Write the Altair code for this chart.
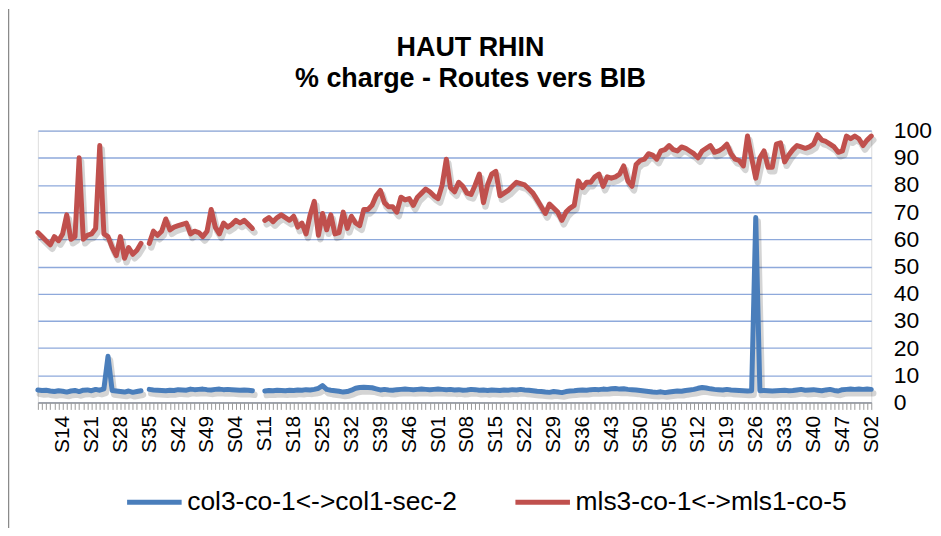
import json
import altair as alt
import pandas as pd

# ---------------- data ----------------
series_names = ["col3-co-1<->col1-sec-2", "mls3-co-1<->mls1-co-5"]
series_colors = ["#4A7EBB", "#C0504D"]

# weekly values, first point = S08 (index 0), last = S02 (index 202); None = missing week
red_values = [
    62.5, 61, 59.5, 58, 61, 59.5, 62, 69, 60, 61,
    90, 60, 61.5, 62, 64, 94.5, 62, 61, 57, 54,
    61, 53, 57, 54.5, 56, 58.5, None, 58.5, 63, 61.5,
    63, 67.5, 63.5, 64.5, 65, 65.5, 66, 62, 63, 62.5,
    61, 63, 71, 64.5, 62, 66, 64.5, 65.5, 67, 66,
    67, 65.5, 64, None, None, 67, 68, 66.5, 68, 69,
    68, 67, 68.5, 64.5, 66, 62, 69, 74, 61.5, 69.5,
    63.5, 69, 62, 62.5, 70, 64, 68.5, 66, 65, 71,
    71, 72.5, 76, 78, 73.5, 72, 72, 70, 75.5, 74.5,
    75, 72.5, 75.5, 77, 78.5, 77.5, 76, 75, 80, 89.5,
    79, 77.5, 81, 79.5, 77, 76.5, 80, 84, 73.5, 80,
    84, 85, 76, 77, 78, 79.5, 81, 80.5, 80, 78.5,
    77, 74.5, 72, 69.5, 73, 71.5, 70, 67, 70, 71.5,
    72.5, 81.5, 79, 81, 81, 83, 84, 79.5, 83, 82.5,
    83, 84, 87, 81.5, 79.5, 87.5, 89, 89.5, 91.5, 91,
    89.5, 92.5, 93, 94.5, 93, 92.5, 94, 93.5, 92.5, 91.5,
    90, 92.5, 93.5, 94.5, 92, 92.5, 93.5, 95, 91.5, 89.5,
    89, 87, 98, 90, 82.5, 90, 92.5, 86.5, 86.5, 95,
    95.5, 88.5, 91, 93, 94.5, 94, 93.5, 94, 95, 98.5,
    96.5, 96, 95, 94, 92, 92.5, 98, 97, 98, 97,
    94.5, 96.5, 98,
]

blue_values = [
    4.6, 4.4, 4.5, 4.2, 4.0, 4.3, 4.1, 3.8, 4.2, 4.4,
    4.0, 4.5, 4.6, 4.3, 4.8, 4.5, 5.0, 17, 4.4, 4.2,
    4.0, 3.8, 4.2, 3.7, 4.0, 4.3, None, 4.8, 4.6, 4.5,
    4.4, 4.3, 4.5, 4.4, 4.7, 4.6, 4.5, 4.9, 4.7, 4.8,
    4.9, 4.7, 4.6, 4.8, 4.9, 4.7, 4.8, 4.7, 4.6, 4.5,
    4.6, 4.5, 4.3, None, None, 4.2, 4.4, 4.3, 4.5, 4.4,
    4.3, 4.5, 4.4, 4.6, 4.5, 4.7, 4.6, 4.8, 5.2, 6.2,
    4.8, 4.5, 4.3, 4.1, 3.8, 4.0, 4.5, 5.2, 5.5, 5.6,
    5.5, 5.4, 5.0, 4.6, 4.8, 4.6, 4.5, 4.7, 4.8, 4.9,
    4.8, 4.7, 4.8, 4.9, 4.8, 4.7, 4.8, 4.9, 4.8, 4.7,
    4.8, 4.6, 4.7, 4.5, 4.6, 4.8, 4.7, 4.5, 4.6, 4.4,
    4.6, 4.5, 4.4, 4.6, 4.5, 4.7, 4.6, 4.8, 4.6, 4.5,
    4.3, 4.1, 4.0, 3.8, 3.7, 4.0, 3.8, 3.6, 4.0, 4.2,
    4.3, 4.5, 4.6, 4.5, 4.7, 4.8, 4.7, 4.9, 4.8, 5.0,
    5.1, 4.9, 5.0, 4.8, 4.7, 4.6, 4.4, 4.2, 4.0, 3.8,
    3.7, 3.9, 3.6, 3.8, 4.0, 4.2, 4.1, 4.4, 4.6, 4.8,
    5.2, 5.5, 5.3, 5.0, 4.8, 4.7, 4.6, 4.8, 4.6, 4.5,
    4.4, 4.3, 4.2, 4.3, 68, 4.3, 4.4, 4.3, 4.2, 4.3,
    4.4, 4.5, 4.3, 4.4, 4.6, 4.8, 4.5, 4.6, 4.7, 4.5,
    4.3, 4.6, 4.8, 4.4, 4.2, 4.7, 4.8, 4.9, 4.8, 4.9,
    4.8, 4.9, 4.8,
]

# axis labels, one every 7 weeks starting at index 6 (S14)
tick_labels = ["S14", "S21", "S28", "S35", "S42", "S49", "S04", "S11", "S18", "S25",
               "S32", "S39", "S46", "S01", "S08", "S15", "S22", "S29", "S36", "S43",
               "S50", "S05", "S12", "S19", "S26", "S33", "S40", "S47", "S02"]
first_label_index = 6
label_step = 7
y_ticks = [0, 10, 20, 30, 40, 50, 60, 70, 80, 90, 100]

# ---------------- build table ----------------
rows = []
for name, vals in zip(series_names, [blue_values, red_values]):
    seg = 0
    for i, v in enumerate(vals):
        if v is None:
            seg += 1
            continue
        rows.append({"i": i, "value": v, "series": name, "seg": f"{name}-{seg}"})
df = pd.DataFrame(rows)
n = len(red_values)

FONT = "Liberation Sans"
W, H = 837, 273

label_expr = (
    f"(datum.value >= {first_label_index} && (datum.value - {first_label_index}) % {label_step} == 0) ? "
    f"{json.dumps(tick_labels)}[(datum.value - {first_label_index}) / {label_step}] : ''"
)

x_enc = alt.X(
    "i:Q",
    scale=alt.Scale(domain=[0, n - 1], nice=False, zero=False),
    axis=alt.Axis(
        values=list(range(n)), labelExpr=label_expr, labelAngle=270, labelOverlap=False,
        labelFontSize=21, labelFont=FONT, labelColor="#000", labelPadding=6,
        tickSize=7, tickColor="#9a9a9a", tickWidth=1,
        domainColor="#9a9a9a", domainWidth=1.5, grid=False, title=None, zindex=1,
    ),
)
y_enc = alt.Y(
    "value:Q",
    scale=alt.Scale(domain=[0, 100], nice=False),
    axis=alt.Axis(
        orient="right", values=y_ticks, labelFontSize=23, labelFont=FONT, labelColor="#000",
        labelPadding=22, ticks=False, domain=False, grid=True, gridColor="#8EA9DB",
        gridWidth=1.3, title=None,
    ),
)

base = alt.Chart(df)

shadow = base.mark_line(
    color="#000", opacity=0.17, strokeWidth=6.5, xOffset=2, yOffset=4,
    strokeJoin="round", strokeCap="round",
).encode(x=x_enc, y=y_enc, detail="seg:N", order="i:Q")

lines = base.mark_line(strokeWidth=5, strokeJoin="round", strokeCap="round").encode(
    x=x_enc,
    y=y_enc,
    detail="seg:N",
    order="i:Q",
    color=alt.Color(
        "series:N",
        scale=alt.Scale(domain=series_names, range=series_colors),
        legend=alt.Legend(
            title=None, orient="none", legendX=87, legendY=343, direction="horizontal",
            symbolType="stroke", symbolSize=3000, symbolStrokeWidth=5,
            labelFontSize=26.5, labelFont=FONT, labelColor="#000", labelOffset=3,
            columnPadding=47, padding=0, labelLimit=400,
        ),
    ),
)

frame = alt.Chart(pd.DataFrame({"a": [0]})).mark_rule(color="#8a8a8a", strokeWidth=1.5).encode(
    x=alt.value(-29.5), y=alt.value(-122), y2=alt.value(H + 126)
)

chart = alt.layer(frame, shadow, lines).properties(
    width=W, height=H,
    autosize=alt.AutoSizeParams(type="none"),
    padding={"left": 30, "top": 122, "right": 62, "bottom": 126},
    title=alt.TitleParams(
        text=["HAUT RHIN", "% charge - Routes vers BIB"], font=FONT, fontSize=27,
        fontWeight="bold", color="#000", anchor="middle", frame="group", dx=16,
        lineHeight=31, offset=-85,
    ),
).configure_view(stroke=None).configure(background="white")

chart.save("out.html", embed_options={"renderer": "svg", "actions": False})
